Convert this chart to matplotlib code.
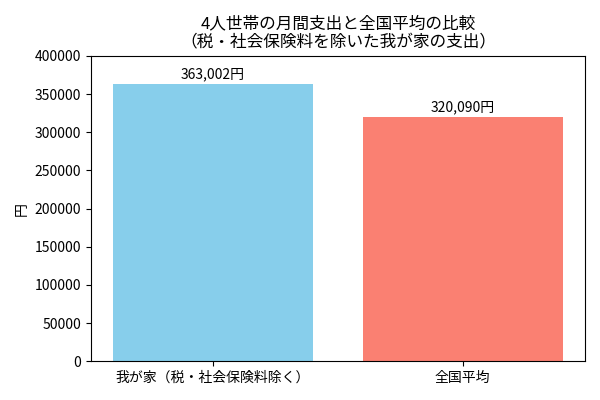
import matplotlib
matplotlib.use('Agg')
import matplotlib.pyplot as plt

plt.rcParams['font.family'] = ['Noto Sans CJK JP', 'DejaVu Sans']

# データ
categories = ['我が家（税・社会保険料除く）', '全国平均']
values = [363002, 320090]
colors = ['skyblue', 'salmon']

fig, ax = plt.subplots(figsize=(6, 4), dpi=100)
bars = ax.bar(categories, values, color=colors)

for bar, v in zip(bars, values):
    ax.text(bar.get_x() + bar.get_width() / 2, bar.get_height() + 4000,
            f'{v:,}円', ha='center', va='bottom', fontsize=10)

ax.set_ylim(0, 400000)
ax.set_ylabel('円')
ax.set_title('4人世帯の月間支出と全国平均の比較\n（税・社会保険料を除いた我が家の支出）')

plt.tight_layout()
fig.savefig('out.png')
